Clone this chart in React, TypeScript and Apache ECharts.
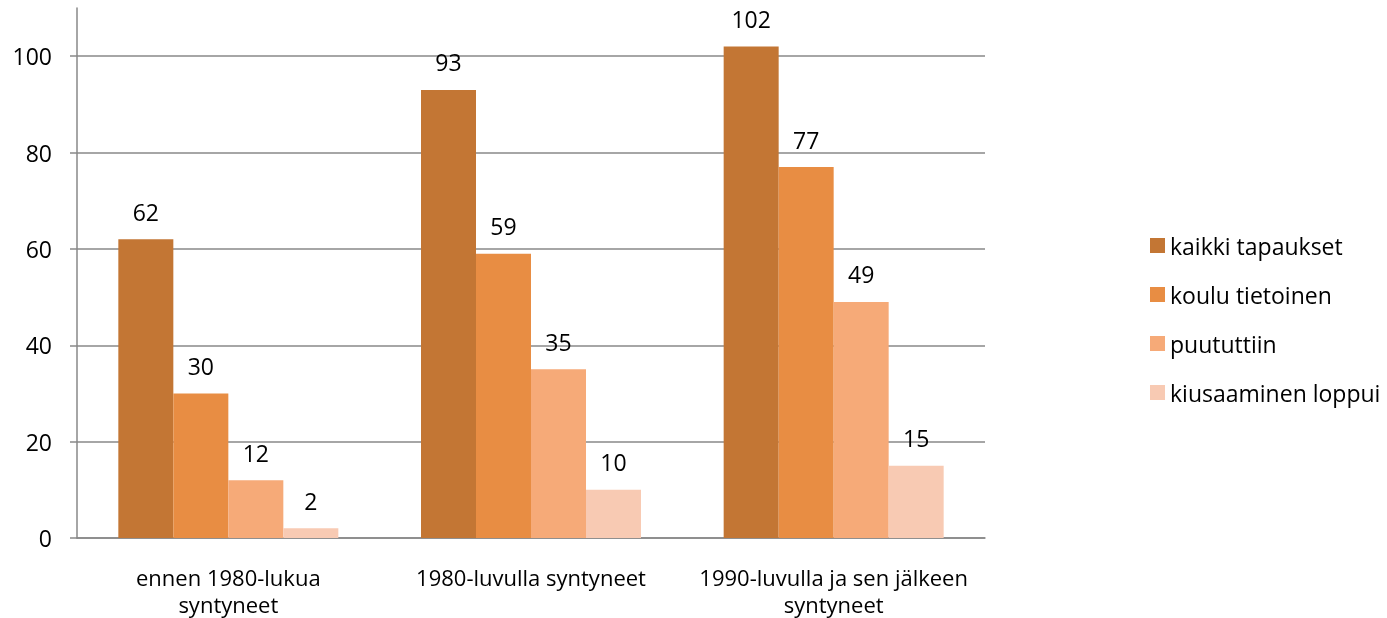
import React, { useEffect, useRef } from "react";
import * as echarts from "echarts";

const categories = ["ennen 1980-lukua\nsyntyneet", "1980-luvulla syntyneet", "1990-luvulla ja sen jälkeen\nsyntyneet"];
const seriesNames = ["kaikki tapaukset", "koulu tietoinen", "puututtiin", "kiusaaminen loppui"];
const kaikki = [62, 93, 102];
const koulu = [30, 59, 77];
const puututtiin = [12, 35, 49];
const loppui = [2, 10, 15];
const yTicks = [0, 20, 40, 60, 80, 100];
const colors = ["#C37634", "#E88D43", "#F6AA78", "#F8CAB3"];

export default function App() {
  const ref = useRef<HTMLDivElement>(null);
  useEffect(() => {
    if (!ref.current) return;
    const chart = echarts.init(ref.current, null, { renderer: "svg" });
    const font = "'Open Sans', 'Noto Sans', sans-serif";
    const values = [kaikki, koulu, puututtiin, loppui];
    chart.setOption({
      animation: false,
      textStyle: { fontFamily: font },
      grid: { left: 77, right: 402, top: 8, bottom: 80 },
      legend: {
        orient: "vertical",
        left: 1150,
        top: 234,
        padding: 0,
        itemWidth: 15,
        itemHeight: 15,
        itemGap: 26,
        icon: "rect",
        textStyle: { fontSize: 23, color: "#000", fontFamily: font },
        data: seriesNames,
      },
      xAxis: {
        type: "category",
        data: categories,
        axisLine: { lineStyle: { color: "#888", width: 1.5 } },
        axisTick: { show: false },
        axisLabel: { interval: 0, fontSize: 22, color: "#000", lineHeight: 27, margin: 25, fontFamily: font },
      },
      yAxis: {
        type: "value",
        min: 0,
        max: 110,
        interval: 20,
        axisLine: { show: true, lineStyle: { color: "#888", width: 1.5 } },
        axisTick: { show: true, length: 7, customValues: yTicks, lineStyle: { color: "#888", width: 1.5 } },
        axisLabel: { fontSize: 23, color: "#000", margin: 25, customValues: yTicks, fontFamily: font },
        splitLine: { show: true, lineStyle: { color: "#888", width: 1.5 } },
      },
      series: seriesNames.map((name, i) => ({
        name,
        type: "bar",
        data: values[i],
        barWidth: 55,
        barGap: "0%",
        itemStyle: { color: colors[i] },
        label: { show: true, position: "top", distance: 16, fontSize: 23, color: "#000", fontFamily: font },
      })),
    });
    return () => chart.dispose();
  }, []);
  return <div ref={ref} style={{ position: "fixed", left: 0, top: 0, width: 1387, height: 618 }} />;
}
